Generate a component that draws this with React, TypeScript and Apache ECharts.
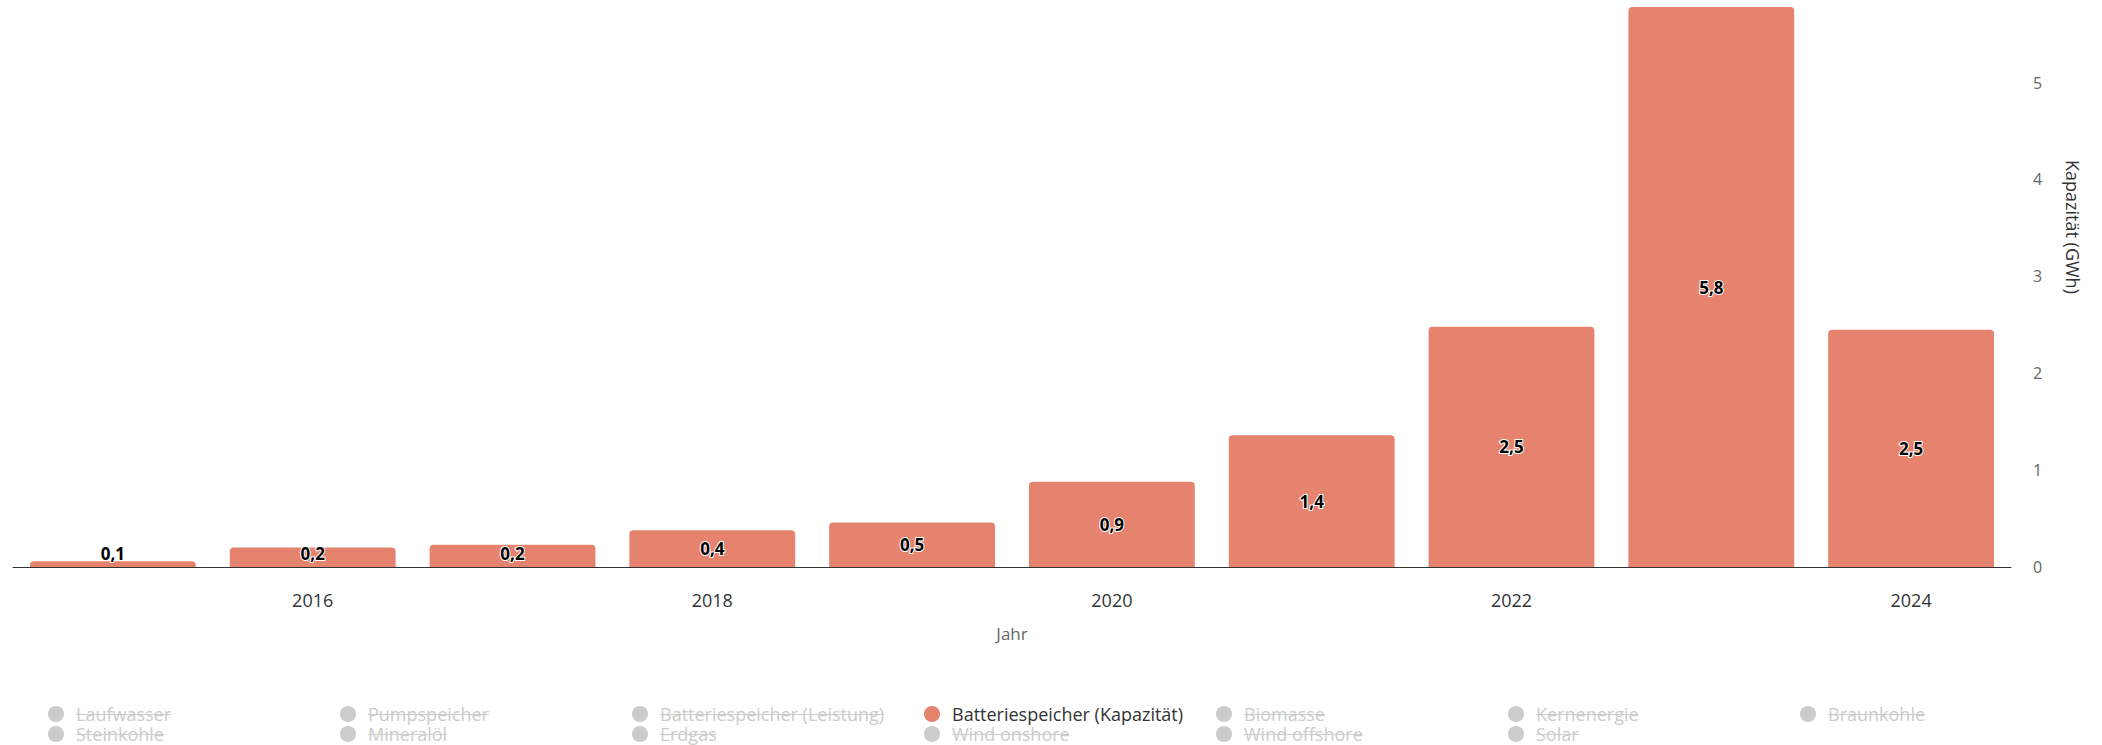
import React, { useEffect, useRef } from "react";
import * as echarts from "echarts";

const years = ["2015", "2016", "2017", "2018", "2019", "2020", "2021", "2022", "2023", "2024"];
const kapazitaet = [0.06, 0.2, 0.23, 0.38, 0.46, 0.88, 1.36, 2.48, 5.78, 2.45];
const seriesNames = [
  "Laufwasser",
  "Pumpspeicher",
  "Batteriespeicher (Leistung)",
  "Batteriespeicher (Kapazität)",
  "Biomasse",
  "Kernenergie",
  "Braunkohle",
  "Steinkohle",
  "Mineralöl",
  "Erdgas",
  "Wind onshore",
  "Wind offshore",
  "Solar",
];
const activeName = "Batteriespeicher (Kapazität)";
const yTicks = [0, 1, 2, 3, 4, 5];

const FONT = "'Open Sans', sans-serif";
const LEG_LEFT = 48;
const LEG_TOP = 704;
const COL_W = 292;
const ROW_H = 20;
const LEG_FONT = 18;

function measure(text: string): number {
  const c = document.createElement("canvas");
  const ctx = c.getContext("2d");
  if (!ctx) return text.length * 8;
  ctx.font = `${LEG_FONT}px 'Open Sans'`;
  return ctx.measureText(text).width;
}

export default function App() {
  const ref = useRef<HTMLDivElement>(null);
  useEffect(() => {
    document.body.style.margin = "0";
    if (!ref.current) return;
    const chart = echarts.init(ref.current, null, { renderer: "svg" });
    const selected: Record<string, boolean> = {};
    seriesNames.forEach((n) => (selected[n] = n === activeName));

    const strikes: any[] = [];
    seriesNames.forEach((n, i) => {
      if (n === activeName) return;
      const row = Math.floor(i / 7);
      const col = i % 7;
      const x0 = LEG_LEFT + col * COL_W + 28;
      const y = LEG_TOP + row * ROW_H + ROW_H / 2 + 0.5;
      strikes.push({
        type: "line",
        silent: true,
        z: 100,
        shape: { x1: x0, y1: y, x2: x0 + measure(n), y2: y },
        style: { stroke: "#cccccc", lineWidth: 1 },
      });
    });

    const series: any[] = seriesNames.map((n) => {
      if (n !== activeName) {
        return { name: n, type: "bar", data: [], itemStyle: { color: "#cccccc" } };
      }
      return {
        name: n,
        type: "bar",
        data: kapazitaet.map((v) =>
          v < 0.3 ? { value: v, label: { position: "insideBottom", distance: 5 } } : { value: v }
        ),
        barCategoryGap: "17%",
        itemStyle: { color: "#E6836F", borderRadius: [4, 4, 0, 0] },
        label: {
          show: true,
          position: "inside",
          fontFamily: FONT,
          fontSize: 17,
          fontWeight: "bold",
          color: "#000",
          textBorderColor: "#fff",
          textBorderWidth: 2,
          formatter: (p: any) => (Math.round(p.value * 10) / 10).toFixed(1).replace(".", ","),
        },
      };
    });

    chart.setOption({
      animation: false,
      textStyle: { fontFamily: FONT },
      grid: { left: 13, right: 91, top: 7, bottom: 178, containLabel: false },
      legend: {
        left: LEG_LEFT,
        top: LEG_TOP,
        width: 2050,
        orient: "horizontal",
        icon: "circle",
        itemWidth: 16,
        itemHeight: 16,
        itemGap: 0,
        padding: 0,
        inactiveColor: "#cccccc",
        selected,
        selectedMode: false,
        data: seriesNames,
        textStyle: {
          fontFamily: FONT,
          fontSize: LEG_FONT,
          color: "#333333",
          width: 264,
          lineHeight: ROW_H,
          padding: [0, 0, 0, 7],
        },
      },
      xAxis: {
        type: "category",
        data: years,
        name: "Jahr",
        nameLocation: "middle",
        nameGap: 58,
        nameTextStyle: { color: "#666666", fontSize: 17, fontFamily: FONT },
        axisLine: { show: true, lineStyle: { color: "#333333", width: 1 } },
        axisTick: { show: false },
        axisLabel: {
          interval: (index: number) => index % 2 === 1,
          margin: 24,
          fontSize: 18,
          color: "#333333",
          fontFamily: FONT,
        },
      },
      yAxis: {
        type: "value",
        position: "right",
        min: 0,
        max: "dataMax",
        interval: 1,
        name: "Kapazität (GWh)",
        nameLocation: "middle",
        nameRotate: -90,
        nameGap: 53,
        nameTextStyle: {
          color: "#333333",
          fontSize: 18,
          fontFamily: FONT,
          padding: [0, 120, 0, 0],
        },
        axisLine: { show: false },
        axisTick: { show: false },
        splitLine: { show: false },
        axisLabel: {
          margin: 22,
          fontSize: 16,
          color: "#666666",
          fontFamily: FONT,
          showMaxLabel: false,
          formatter: (v: number) => (yTicks.includes(v) ? String(v) : ""),
        },
      },
      graphic: strikes,
      series,
    });
    return () => chart.dispose();
  }, []);
  return <div ref={ref} style={{ width: 2102, height: 745 }} />;
}
